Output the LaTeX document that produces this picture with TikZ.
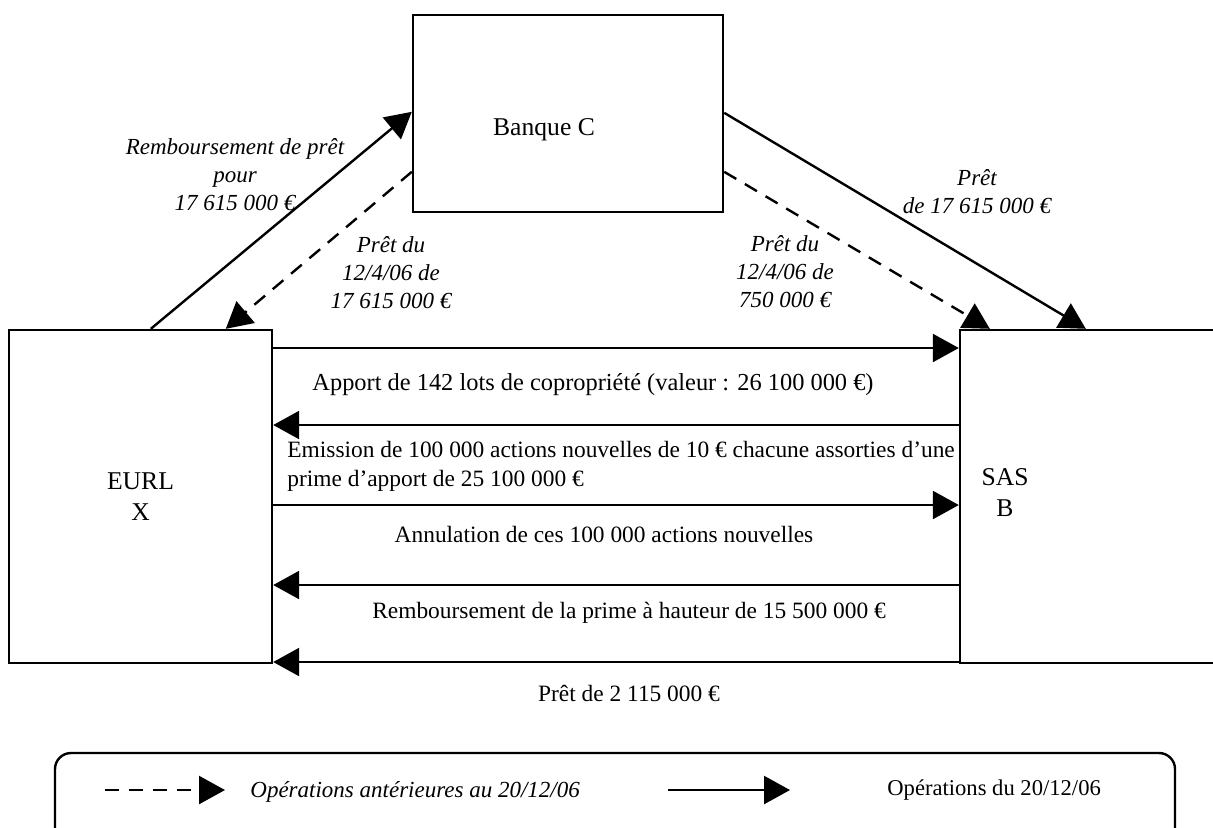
\documentclass[tikz,border=0pt]{standalone}
\usepackage{fontspec}
\setmainfont{Liberation Serif}
\usetikzlibrary{arrows.meta}

\tikzset{
	box/.style={draw, line width=1.2pt, inner sep=0pt},
	op/.style={line width=1.2pt, -{Triangle[length=13pt,width=14pt]}},
	opold/.style={op, dash pattern=on 7pt off 5pt},
	txt/.style={font=\fontsize{11.7}{14.5}\selectfont, align=center, inner sep=0pt},
	boxtxt/.style={font=\fontsize{12.8}{15.5}\selectfont, align=center, inner sep=0pt},
	itxt/.style={font=\fontsize{11.5}{14}\selectfont\itshape, align=center, inner sep=0pt},
}

\begin{document}
\begin{tikzpicture}[x=0.5pt, y=-0.5pt]
			\useasboundingbox (0,0) rectangle (1213,827);
			\node[box, minimum width=155pt, minimum height=98.5pt] (banque) at (568,113.5) {};
			\node[box, minimum width=131.5pt, minimum height=166.5pt, boxtxt] (eurl) at (140.5,496.5) {EURL\\X};
			\node[box, minimum width=140pt, minimum height=166.5pt] (sas) at (1100,496.5) {};
			\node[boxtxt] (banquetxt) at (544,130) {Banque C};
			\node[boxtxt] (sastxt) at (1005,493) {SAS\\B};
			\coordinate (row1) at (0,348);
			\coordinate (row2) at (0,425);
			\coordinate (row3) at (0,505);
			\coordinate (row4) at (0,585);
			\coordinate (row5) at (0,662);
			\draw[op] ([xshift=71.5pt]eurl.north west) -- ([yshift=-49pt]banque.north west);
			\draw[opold] ([yshift=-79pt]banque.north west) -- ([xshift=109pt]eurl.north west);
			\draw[op] ([yshift=-49.5pt]banque.north east) -- ([xshift=63.5pt]sas.north west);
			\draw[opold] ([yshift=-79pt]banque.north east) -- ([xshift=15.5pt]sas.north west);
			\draw[op] (eurl.east |- row1) -- (sas.west |- row1);
			\draw[op] (sas.west |- row2) -- (eurl.east |- row2);
			\draw[op] (eurl.east |- row3) -- (sas.west |- row3);
			\draw[op] (sas.west |- row4) -- (eurl.east |- row4);
			\draw[op] (sas.west |- row5) -- (eurl.east |- row5);
			\node[itxt] (rembpret) at (235,175) {Remboursement de prêt\\pour\\17 615 000 €};
			\node[itxt] (pretx) at (391,273) {Prêt du\\12/4/06 de\\17 615 000 €};
			\node[itxt] (pretb) at (785,272) {Prêt du\\12/4/06 de\\750 000 €};
			\node[itxt] (pretc) at (977,192) {Prêt\\de 17 615 000 €};
			\node[txt, font=\fontsize{12.2}{14.5}\selectfont] (apport) at (593,385) {Apport de 142 lots de copropriété (valeur : 26 100 000 €)};
			\node[txt, align=left, anchor=west] (emission) at (287,466) {Emission de 100 000 actions nouvelles de 10 € chacune assorties d’une\\prime d’apport de 25 100 000 €};
			\node[txt] (annul) at (604,534) {Annulation de ces 100 000 actions nouvelles};
			\node[txt] (rembprime) at (629,613) {Remboursement de la prime à hauteur de 15 500 000 €};
			\node[txt] (pretsas) at (629,693) {Prêt de 2 115 000 €};
			\draw[line width=1.2pt, rounded corners=8pt] (55,845) -- (55,753) -- (1175,753) -- (1175,845);
			\coordinate (oldstart) at (105,790);
			\coordinate (oldend) at (225,790);
			\coordinate (newstart) at (668,790);
			\coordinate (newend) at (790,790);
			\draw[opold] (oldstart) -- (oldend);
			\draw[op] (newstart) -- (newend);
			\node[itxt, anchor=west] (oldtxt) at (250,792) {Opérations antérieures au 20/12/06};
			\node[txt, font=\fontsize{11.3}{14}\selectfont, anchor=west] (newtxt) at (887,790) {Opérations du 20/12/06};
\end{tikzpicture}
\end{document}
